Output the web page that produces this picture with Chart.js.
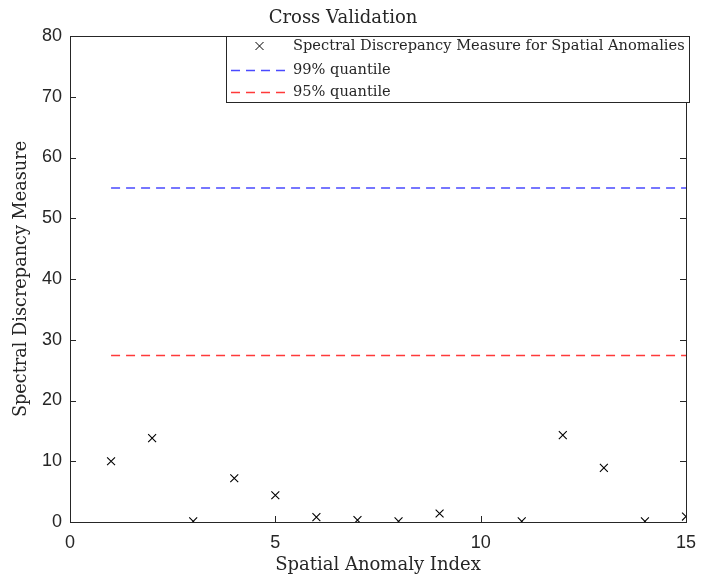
<!DOCTYPE html>
<html><head><meta charset="utf-8">
<script src="https://cdn.jsdelivr.net/npm/chart.js@4.4.1/dist/chart.umd.min.js"></script>
<style>html,body{margin:0;padding:0;background:#fff}#wrap{width:701px;height:581px}</style>
</head><body><div id="wrap"><canvas id="c" width="701" height="581"></canvas></div>
<script>
const anomalyIndex = [1, 2, 3, 4, 5, 6, 7, 8, 9, 11, 12, 13, 14, 15];
const discrepancy = [10.0, 13.8, 0.1, 7.2, 4.4, 0.8, 0.3, 0.1, 1.4, 0.1, 14.3, 8.9, 0.1, 0.9];
const quantileX = [1, 15];
const q99 = 55.0;
const q95 = 27.4;
const xTicks = [0, 5, 10, 15];
const yTicks = [0, 10, 20, 30, 40, 50, 60, 70, 80];
const labels = ['Spectral Discrepancy Measure for Spatial Anomalies', '99% quantile', '95% quantile'];

const SERIF = '"DejaVu Serif", serif';
const SANS = '"Liberation Sans", Arial, sans-serif';
const AXC = '#262626';

const boxPlugin = {
  id: 'boxPlugin',
  afterDraw(chart) {
    const {ctx, chartArea: a, scales} = chart;
    ctx.save();
    ctx.strokeStyle = AXC; ctx.lineWidth = 1;
    ctx.strokeRect(Math.round(a.left) + 0.5, Math.round(a.top) + 0.5, Math.round(a.right - a.left), Math.round(a.bottom - a.top));
    const L = 6;
    ctx.beginPath();
    xTicks.forEach(v => {
      const x = Math.round(scales.x.getPixelForValue(v)) + 0.5;
      ctx.moveTo(x, a.bottom); ctx.lineTo(x, a.bottom - L);
      ctx.moveTo(x, a.top); ctx.lineTo(x, a.top + L);
    });
    yTicks.forEach(v => {
      const y = Math.round(scales.y.getPixelForValue(v)) + 0.5;
      ctx.moveTo(a.left, y); ctx.lineTo(a.left + L, y);
      ctx.moveTo(a.right, y); ctx.lineTo(a.right - L, y);
    });
    ctx.stroke();
    // legend
    const bx = 226.5, by = 36.5, bw = 463, bh = 66;
    ctx.fillStyle = '#fff';
    ctx.fillRect(bx, by, bw, bh);
    ctx.strokeStyle = AXC;
    ctx.strokeRect(bx, by, bw, bh);
    const rows = [46, 70, 92];
    ctx.font = '14.6px ' + SERIF;
    ctx.textBaseline = 'middle';
    ctx.textAlign = 'left';
    chart.data.datasets.forEach((ds, i) => {
      const y = rows[i];
      if (i === 0) {
        ctx.strokeStyle = ds.borderColor; ctx.lineWidth = 1;
        const cx = 259.5, r = 4;
        ctx.beginPath();
        ctx.moveTo(cx - r, y - r); ctx.lineTo(cx + r, y + r);
        ctx.moveTo(cx + r, y - r); ctx.lineTo(cx - r, y + r);
        ctx.stroke();
      } else {
        ctx.strokeStyle = ds.borderColor; ctx.lineWidth = ds.borderWidth;
        ctx.setLineDash(ds.borderDash);
        ctx.beginPath(); ctx.moveTo(231, y + 0.5); ctx.lineTo(287, y + 0.5); ctx.stroke();
        ctx.setLineDash([]);
      }
      ctx.fillStyle = AXC;
      ctx.fillText(ds.label, 293, y);
    });
    ctx.restore();
  }
};

new Chart(document.getElementById('c'), {
  type: 'scatter',
  data: {
    datasets: [
      {
        label: labels[0],
        data: anomalyIndex.map((x, i) => ({x, y: discrepancy[i]})),
        pointStyle: 'crossRot', pointRadius: 5.6, borderColor: '#000', borderWidth: 1.1,
        backgroundColor: '#000', showLine: false
      },
      {
        label: labels[1],
        data: quantileX.map(x => ({x, y: q99})),
        showLine: true, pointRadius: 0, borderColor: '#4a4aff', borderWidth: 1.5, borderDash: [9, 6], fill: false
      },
      {
        label: labels[2],
        data: quantileX.map(x => ({x, y: q95})),
        showLine: true, pointRadius: 0, borderColor: '#ff3a3a', borderWidth: 1.5, borderDash: [9, 6], fill: false
      }
    ]
  },
  options: {
    responsive: false, animation: false,
    layout: {padding: {left: 0, right: 15, top: 0, bottom: 0}},
    plugins: {
      legend: {display: false}, tooltip: {enabled: false},
      title: {display: true, text: 'Cross Validation', color: AXC, font: {family: SERIF, size: 18, weight: 'normal', lineHeight: 1.2}, padding: {top: 7.5, bottom: 6.9}}
    },
    scales: {
      x: {
        type: 'linear', min: 0, max: 15,
        afterBuildTicks: s => { s.ticks = xTicks.map(v => ({value: v})); },
        afterFit: s => { s.height = 59; s.paddingLeft = 0; s.paddingRight = 0; },
        grid: {display: false, drawTicks: false}, border: {display: false},
        ticks: {padding: 10, color: AXC, font: {family: SANS, size: 18}},
        title: {display: true, text: 'Spatial Anomaly Index', color: AXC, font: {family: SERIF, size: 18}, padding: {top: 0, bottom: 5}}
      },
      y: {
        min: 0, max: 80,
        afterBuildTicks: s => { s.ticks = yTicks.map(v => ({value: v})); },
        afterFit: s => { s.width = 70; s.paddingTop = 0; s.paddingBottom = 0; },
        grid: {display: false, drawTicks: false}, border: {display: false},
        ticks: {padding: 8, color: AXC, font: {family: SANS, size: 18}},
        title: {display: true, text: 'Spectral Discrepancy Measure', color: AXC, font: {family: SERIF, size: 17.7}, padding: {top: 11, bottom: 0}}
      }
    }
  },
  plugins: [boxPlugin]
});
</script></body></html>
